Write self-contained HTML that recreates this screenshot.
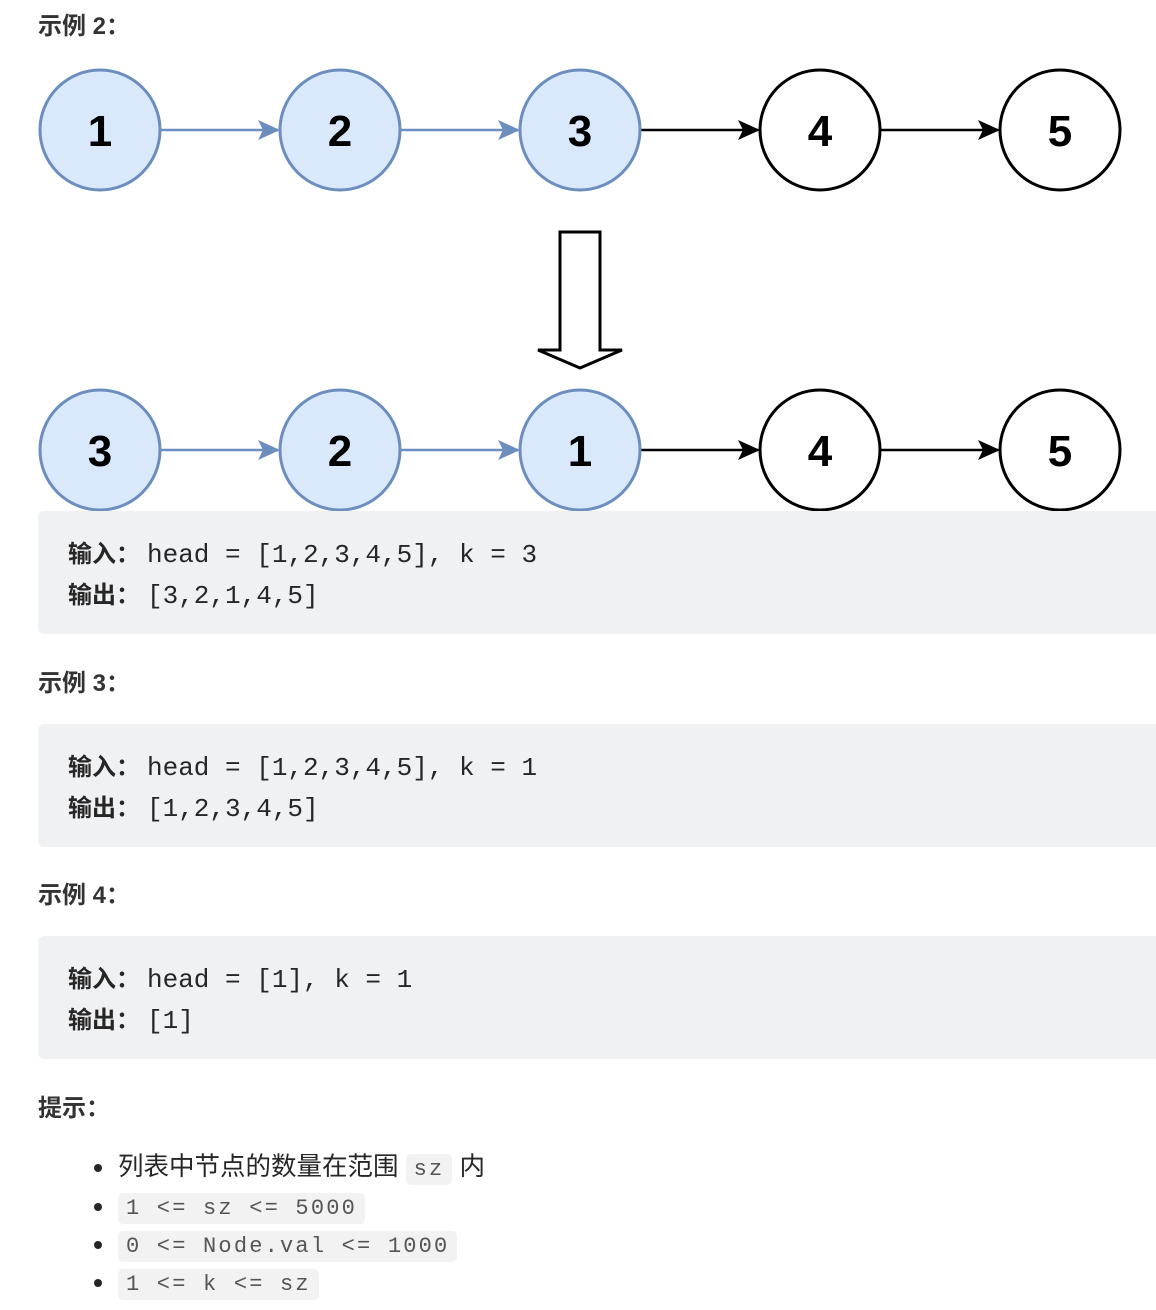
<!DOCTYPE html>
<html><head><meta charset="utf-8"><style>
body{margin:0;width:1156px;height:1310px;background:#fff;position:relative;font-family:"Liberation Sans","Noto Sans CJK SC",sans-serif;color:#262626;overflow:hidden}
.h{position:absolute;left:38px;font-size:24px;font-weight:bold;color:#333}
.pre{position:absolute;left:38px;width:1118px;height:123px;background:#f0f1f3;border-radius:6px 0 0 6px}
.ln{position:absolute;left:30px;font-family:"Liberation Mono","Noto Sans CJK SC",monospace;font-size:26px;white-space:pre;color:#262626}
.ln b{display:inline-block;width:79px;font-family:"Liberation Sans","Noto Sans CJK SC",sans-serif;font-size:24px}
.li{position:absolute;left:118px;font-size:25.5px;white-space:pre;height:36px;line-height:36px}
.li:before{content:"";position:absolute;left:-24px;top:15px;width:8px;height:8px;border-radius:50%;background:#262626}
code{font-family:"Liberation Mono",monospace;font-size:22px;letter-spacing:2.2px;color:#555;background:#f2f2f3;border-radius:5px;padding:3px 8px}
</style></head><body>
<div class="h" style="top:6px">示例 2：</div>
<svg width="1156" height="515" style="position:absolute;left:0;top:0">
<g font-family="Liberation Sans,sans-serif" font-size="44" font-weight="bold" text-anchor="middle">
<g stroke-width="2.5">
<line x1="160" y1="130" x2="278" y2="130" stroke="#6c8ebf"/><path d="M258,120 L280,130 L258,140 L263,130Z" fill="#6c8ebf"/>
<line x1="400" y1="130" x2="518" y2="130" stroke="#6c8ebf"/><path d="M498,120 L520,130 L498,140 L503,130Z" fill="#6c8ebf"/>
<line x1="640" y1="130" x2="758" y2="130" stroke="#000"/><path d="M738,120 L760,130 L738,140 L743,130Z" fill="#000"/>
<line x1="880" y1="130" x2="998" y2="130" stroke="#000"/><path d="M978,120 L1000,130 L978,140 L983,130Z" fill="#000"/>
<line x1="160" y1="450" x2="278" y2="450" stroke="#6c8ebf"/><path d="M258,440 L280,450 L258,460 L263,450Z" fill="#6c8ebf"/>
<line x1="400" y1="450" x2="518" y2="450" stroke="#6c8ebf"/><path d="M498,440 L520,450 L498,460 L503,450Z" fill="#6c8ebf"/>
<line x1="640" y1="450" x2="758" y2="450" stroke="#000"/><path d="M738,440 L760,450 L738,460 L743,450Z" fill="#000"/>
<line x1="880" y1="450" x2="998" y2="450" stroke="#000"/><path d="M978,440 L1000,450 L978,460 L983,450Z" fill="#000"/>
</g>
<g stroke-width="3">
<circle cx="100" cy="130" r="60" fill="#dae8fc" stroke="#6c8ebf"/>
<circle cx="340" cy="130" r="60" fill="#dae8fc" stroke="#6c8ebf"/>
<circle cx="580" cy="130" r="60" fill="#dae8fc" stroke="#6c8ebf"/>
<circle cx="820" cy="130" r="60" fill="#fff" stroke="#000"/>
<circle cx="1060" cy="130" r="60" fill="#fff" stroke="#000"/>
<circle cx="100" cy="450" r="60" fill="#dae8fc" stroke="#6c8ebf"/>
<circle cx="340" cy="450" r="60" fill="#dae8fc" stroke="#6c8ebf"/>
<circle cx="580" cy="450" r="60" fill="#dae8fc" stroke="#6c8ebf"/>
<circle cx="820" cy="450" r="60" fill="#fff" stroke="#000"/>
<circle cx="1060" cy="450" r="60" fill="#fff" stroke="#000"/>
</g>
<text x="100" y="146">1</text><text x="340" y="146">2</text><text x="580" y="146">3</text><text x="820" y="146">4</text><text x="1060" y="146">5</text>
<text x="100" y="466">3</text><text x="340" y="466">2</text><text x="580" y="466">1</text><text x="820" y="466">4</text><text x="1060" y="466">5</text>
</g>
<path d="M560,232 L600,232 L600,350 L622,350 L580,368 L538,350 L560,350 Z" fill="#fff" stroke="#000" stroke-width="3"/>
</svg>
<div class="pre" style="top:511px"><div class="ln" style="top:23px"><b>输入：</b>head = [1,2,3,4,5], k = 3</div><div class="ln" style="top:64px"><b>输出：</b>[3,2,1,4,5]</div></div>
<div class="h" style="top:663px">示例 3：</div>
<div class="pre" style="top:724px"><div class="ln" style="top:23px"><b>输入：</b>head = [1,2,3,4,5], k = 1</div><div class="ln" style="top:64px"><b>输出：</b>[1,2,3,4,5]</div></div>
<div class="h" style="top:875px">示例 4：</div>
<div class="pre" style="top:936px"><div class="ln" style="top:23px"><b>输入：</b>head = [1], k = 1</div><div class="ln" style="top:64px"><b>输出：</b>[1]</div></div>
<div class="h" style="top:1088px">提示：</div>
<div class="li" style="top:1149px">列表中节点的数量在范围 <code>sz</code> 内</div>
<div class="li" style="top:1188px"><code>1 &lt;= sz &lt;= 5000</code></div>
<div class="li" style="top:1226px"><code>0 &lt;= Node.val &lt;= 1000</code></div>
<div class="li" style="top:1264px"><code>1 &lt;= k &lt;= sz</code></div>
</body></html>
